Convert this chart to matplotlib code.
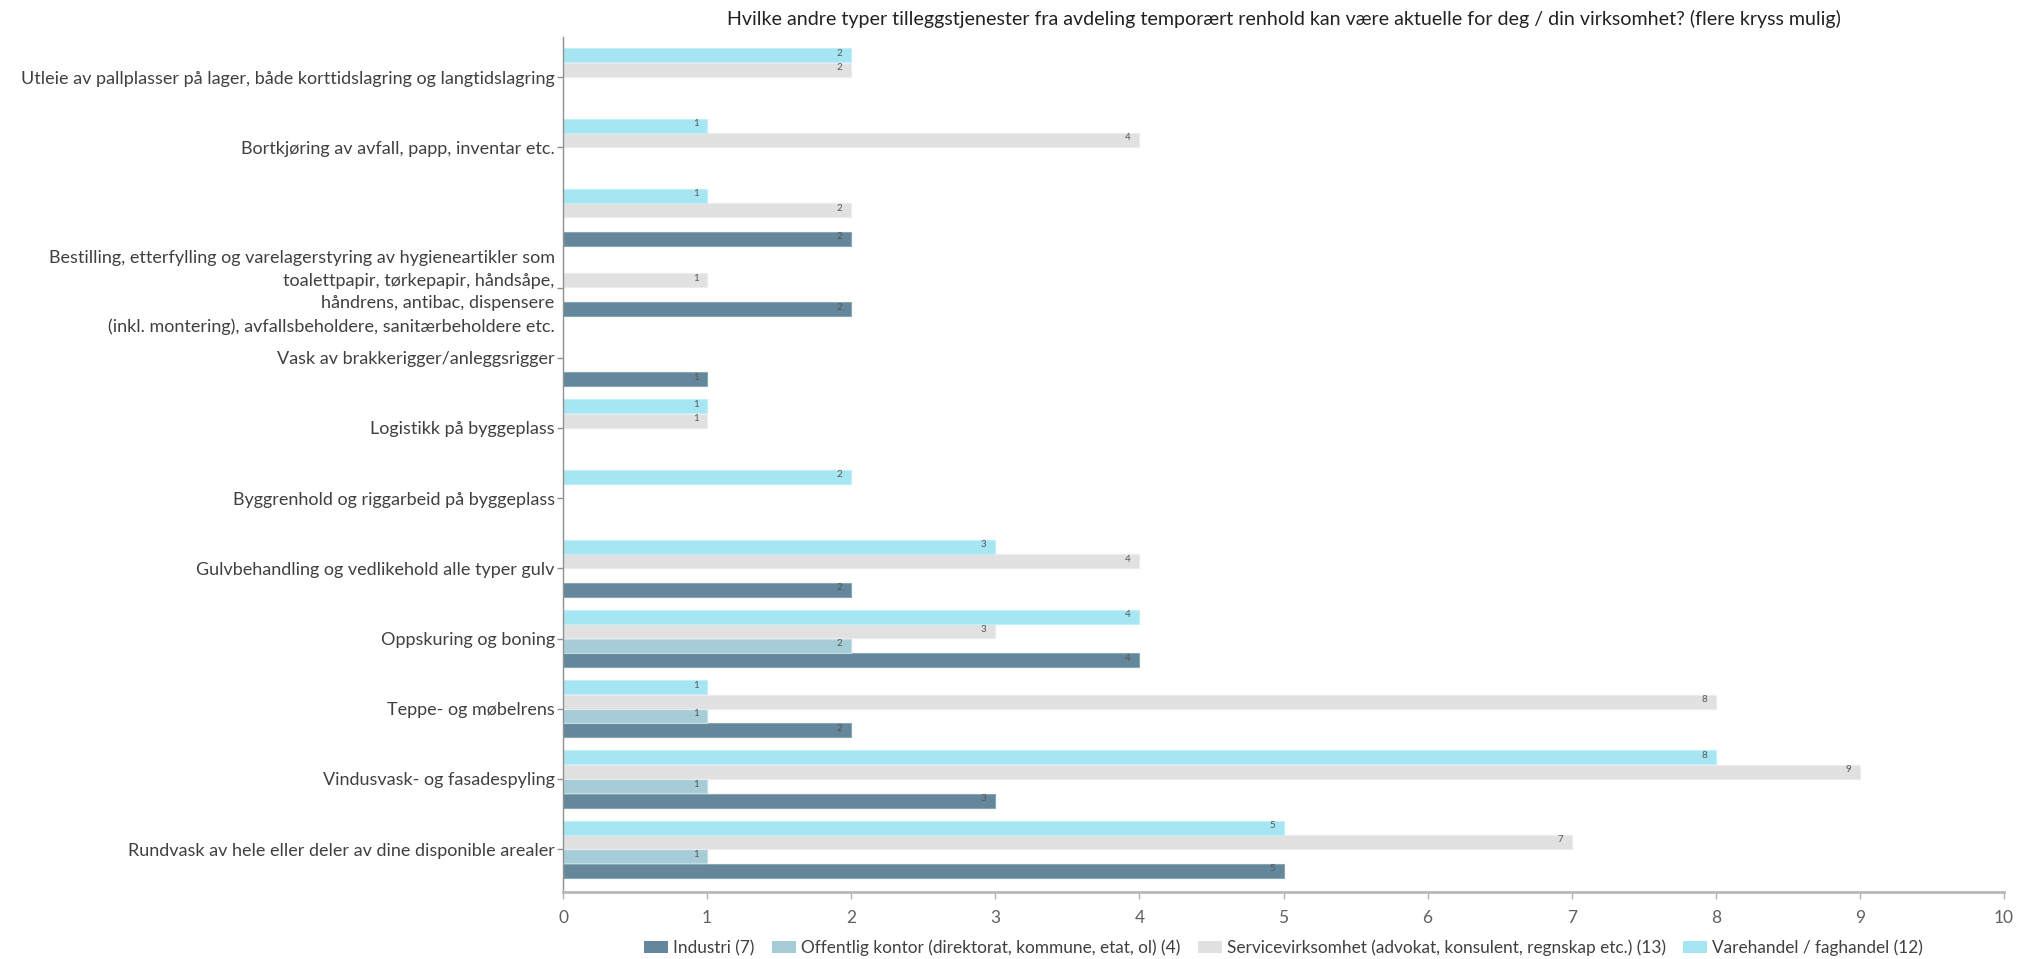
import numpy as np
import matplotlib
matplotlib.use("Agg")
import matplotlib.pyplot as plt
from matplotlib.patches import Patch

plt.rcParams['font.family'] = ['Lato', 'DejaVu Sans']

# Categories, listed from the bottom of the chart to the top
categories = [
    "Rundvask av hele eller deler av dine disponible arealer",
    "Vindusvask- og fasadespyling",
    "Teppe- og møbelrens",
    "Oppskuring og boning",
    "Gulvbehandling og vedlikehold alle typer gulv",
    "Byggrenhold og riggarbeid på byggeplass",
    "Logistikk på byggeplass",
    "Vask av brakkerigger/anleggsrigger",
    "Bestilling, etterfylling og varelagerstyring av hygieneartikler som\n"
    "toalettpapir, tørkepapir, håndsåpe,\n"
    "håndrens, antibac, dispensere\n"
    "(inkl. montering), avfallsbeholdere, sanitærbeholdere etc.",
    "",
    "Bortkjøring av avfall, papp, inventar etc.",
    "Utleie av pallplasser på lager, både korttidslagring og langtidslagring",
]

industri = [5, 3, 2, 4, 2, 0, 0, 1, 2, 2, 0, 0]
offentlig = [1, 1, 1, 2, 0, 0, 0, 0, 0, 0, 0, 0]
service = [7, 9, 8, 3, 4, 0, 1, 0, 1, 2, 4, 2]
varehandel = [5, 8, 1, 4, 3, 2, 1, 0, 0, 1, 1, 2]

series_names = [
    "Industri (7)",
    "Offentlig kontor (direktorat, kommune, etat, ol) (4)",
    "Servicevirksomhet (advokat, konsulent, regnskap etc.) (13)",
    "Varehandel / faghandel (12)",
]
series_values = [industri, offentlig, service, varehandel]
colors = ["#64879b", "#a6cdd7", "#e1e1e1", "#a6e6f3"]
edge_colors = ["#8aa5b4", "#c2dde4", "#ececec", "#c4eef7"]

title = ("Hvilke andre typer tilleggstjenester fra avdeling temporært renhold "
         "kan være aktuelle for deg / din virksomhet? (flere kryss mulig)")

W, H = 2017, 959
fig = plt.figure(figsize=(W / 100, H / 100), dpi=100)
left, right = 563 / W, 2004 / W
bottom, top = 1 - 892 / H, 1 - 37 / H
ax = fig.add_axes([left, bottom, right - left, top - bottom])

y = np.arange(len(categories))
step = 0.205
bar_h = 0.2
offsets = [-1.5, -0.5, 0.5, 1.5]

for vals, off, col, ec in zip(series_values, offsets, colors, edge_colors):
    pos = y + off * step
    ax.barh(pos, vals, height=bar_h, color=col, edgecolor=ec, linewidth=0.8,
            zorder=2)
    for p, v in zip(pos, vals):
        if v > 0:
            ax.text(v - 0.06, p + 0.03, str(v), ha="right", va="center",
                    fontsize=7, color="#555555", zorder=3)

ax.set_xlim(0, 10)
ax.set_ylim(-0.61, 11.57)
ax.set_xticks(range(0, 11))
ax.tick_params(axis="x", colors="#b0b0b0", labelcolor="#606060",
               labelsize=12.5, length=5, width=1, pad=8)
ax.set_yticks(y)
ax.set_yticklabels(categories)
ax.tick_params(axis="y", colors="#909090", labelcolor="#404040",
               labelsize=13, length=4, width=1, pad=2)
for lbl in ax.get_yticklabels():
    lbl.set_linespacing(1.5)
ax.yaxis.get_major_ticks()[9].tick1line.set_visible(False)

for s in ("top", "right"):
    ax.spines[s].set_visible(False)
ax.spines["left"].set_color("#909090")
ax.spines["left"].set_linewidth(1)
ax.spines["bottom"].set_color("#b8b8b8")
ax.spines["bottom"].set_linewidth(2)

cx = (left + right) / 2
fig.text(cx, 1 - 19 / H, title, ha="center", va="center", fontsize=14.1,
         color="#222222")

handles = [Patch(facecolor=c, edgecolor="none") for c in colors]
fig.legend(handles, series_names, loc="center", bbox_to_anchor=(cx, 1 - 948 / H),
           ncol=4, frameon=False, fontsize=12.4, handlelength=1.4,
           handleheight=0.7, handletextpad=0.3, columnspacing=1.0,
           labelcolor="#404040")

fig.savefig("out.png", dpi=100)
